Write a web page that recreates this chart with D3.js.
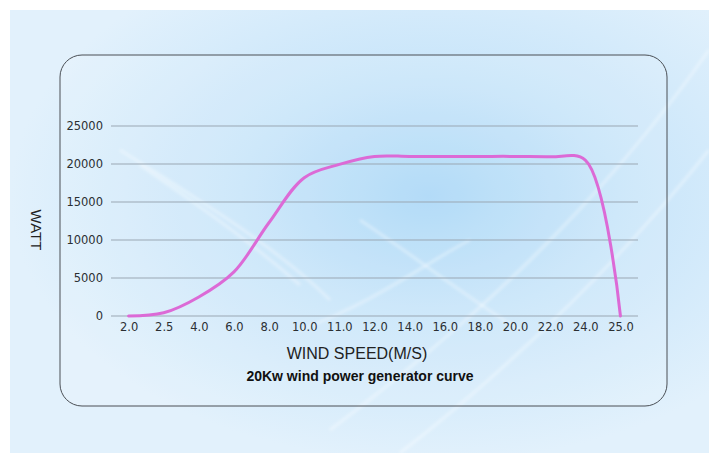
<!DOCTYPE html>
<html>
<head>
<meta charset="utf-8">
<script src="https://cdn.jsdelivr.net/npm/d3@7"></script>
<style>
  body { margin: 0; background: #fff; }
  svg { display: block; }
</style>
</head>
<body>
<svg id="drawing_region"></svg>
<script>
// wind speed categories (m/s) shown on the x axis
const speeds = ["2.0", "2.5", "4.0", "6.0", "8.0", "10.0", "11.0", "12.0", "14.0", "16.0", "18.0", "20.0", "22.0", "24.0", "25.0"];
// power output in watts at each speed
const watts = [0, 420, 2500, 5800, 12300, 18200, 19950, 21000, 21000, 21000, 21000, 21000, 20950, 20500, 0];
const yTicks = [0, 5000, 10000, 15000, 20000, 25000];

const W = 709, H = 453;
const margin = {top: 126, right: 71, bottom: 137, left: 111};
const inner_width = W - margin.left - margin.right;
const inner_height = H - margin.top - margin.bottom;

const svg = d3.select('#drawing_region')
    .attr('width', W)
    .attr('height', H);

// background
const defs = svg.append('defs');
const bg = defs.append('radialGradient').attr('id', 'bg')
    .attr('cx', 0.6).attr('cy', 0.42).attr('r', 0.6);
bg.append('stop').attr('offset', '0%').attr('stop-color', '#a9d7f7');
bg.append('stop').attr('offset', '45%').attr('stop-color', '#c8e5fa');
bg.append('stop').attr('offset', '100%').attr('stop-color', '#e2f1fc');

defs.append('filter').attr('id', 'soft')
    .append('feGaussianBlur').attr('stdDeviation', 1.6);

svg.append('rect')
    .attr('x', 10).attr('y', 10)
    .attr('width', W - 10).attr('height', H - 10)
    .attr('fill', 'url(#bg)');

// a few soft white streaks
const streaks = [
    "M120,150 C200,200 280,250 330,300",
    "M140,165 C220,220 260,250 300,285",
    "M330,430 C450,340 590,220 709,50",
    "M400,453 C520,360 630,250 709,150",
    "M360,220 C420,260 470,300 520,330",
    "M300,330 C380,300 430,260 470,240"
];
svg.append('g')
    .attr('filter', 'url(#soft)')
    .selectAll('path')
    .data(streaks)
    .join('path')
    .attr('d', d => d)
    .attr('fill', 'none')
    .attr('stroke', '#ffffff')
    .attr('stroke-opacity', 0.35)
    .attr('stroke-width', 3);

// rounded frame
svg.append('rect')
    .attr('x', 60).attr('y', 55)
    .attr('width', 607).attr('height', 351)
    .attr('rx', 22).attr('ry', 22)
    .attr('fill', '#ffffff').attr('fill-opacity', 0.12)
    .attr('stroke', '#4a4f55').attr('stroke-width', 1);

const chart = svg.append('g')
    .attr('transform', `translate(${margin.left}, ${margin.top})`);

const xscale = d3.scalePoint()
    .domain(speeds)
    .range([0, inner_width])
    .padding(0.5);

const yscale = d3.scaleLinear()
    .domain([0, 25000])
    .range([inner_height, 0]);

// gridlines
chart.append('g')
    .selectAll('line')
    .data(yTicks)
    .join('line')
    .attr('x1', 0).attr('x2', inner_width)
    .attr('y1', d => yscale(d)).attr('y2', d => yscale(d))
    .attr('stroke', '#9aa7b3')
    .attr('stroke-width', 1);

const yaxis = d3.axisLeft(yscale).tickValues(yTicks).tickFormat(d3.format('d')).tickSize(0).tickPadding(8);
chart.append('g')
    .call(yaxis)
    .call(g => g.select('.domain').remove())
    .selectAll('text')
    .attr('font-family', 'DejaVu Sans, sans-serif')
    .attr('font-size', 11.5)
    .attr('fill', '#2b2f33');

const xaxis = d3.axisBottom(xscale).tickSize(0).tickPadding(7);
chart.append('g')
    .attr('transform', `translate(0, ${inner_height})`)
    .call(xaxis)
    .call(g => g.select('.domain').remove())
    .selectAll('text')
    .attr('font-family', 'DejaVu Sans, sans-serif')
    .attr('font-size', 11.5)
    .attr('fill', '#2b2f33');

// power curve
const line = d3.line()
    .x((d, i) => xscale(speeds[i]))
    .y(d => yscale(d))
    .curve(d3.curveCatmullRom.alpha(0.5));

chart.append('path')
    .attr('d', line(watts))
    .attr('fill', 'none')
    .attr('stroke', '#dc6ad6')
    .attr('stroke-width', 3)
    .attr('stroke-linejoin', 'round')
    .attr('stroke-linecap', 'round');

// titles
svg.append('text')
    .attr('transform', 'translate(31, 230) rotate(90)')
    .attr('text-anchor', 'middle')
    .attr('font-family', 'Liberation Sans, Arial, sans-serif')
    .attr('font-size', 15)
    .attr('fill', '#222')
    .text('WATT');

svg.append('text')
    .attr('x', 357).attr('y', 359)
    .attr('text-anchor', 'middle')
    .attr('font-family', 'Liberation Sans, Arial, sans-serif')
    .attr('font-size', 16)
    .attr('fill', '#222')
    .text('WIND SPEED(M/S)');

svg.append('text')
    .attr('x', 360).attr('y', 381)
    .attr('text-anchor', 'middle')
    .attr('font-family', 'Liberation Sans, Arial, sans-serif')
    .attr('font-weight', 'bold')
    .attr('font-size', 14)
    .attr('fill', '#111')
    .text('20Kw wind power generator curve');
</script>
</body>
</html>
